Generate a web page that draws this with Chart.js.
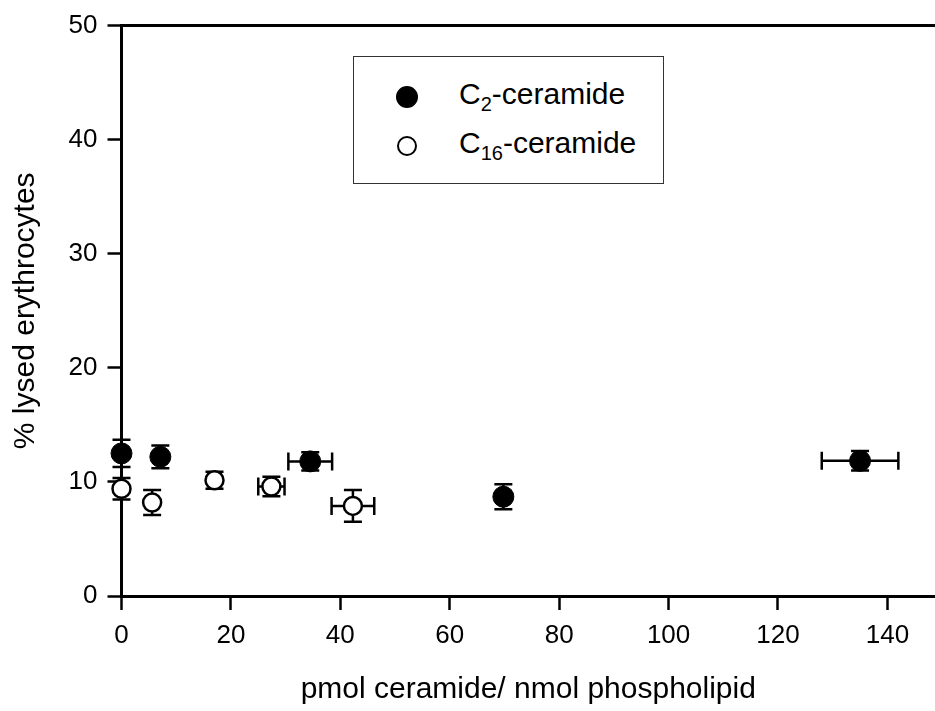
<!DOCTYPE html>
<html>
<head>
<meta charset="utf-8">
<script src="https://cdn.jsdelivr.net/npm/chart.js@4.4.0/dist/chart.umd.min.js"></script>
<style>
  body { margin: 0; background: #fff; }
  #wrap { position: relative; width: 935px; height: 711px; }
  #legend {
    position: absolute; left: 353px; top: 56px; width: 311px; height: 128px;
    border: 1.5px solid #333; box-sizing: border-box; background: #fff;
    font-family: "Liberation Sans", Arial, sans-serif; font-size: 30px; color: #000;
  }
  .dot { position: absolute; border-radius: 50%; box-sizing: border-box; border: 2.5px solid #000; }
  .lbl { position: absolute; left: 105px; height: 40px; line-height: 40px; white-space: nowrap; }
  .lbl sub { font-size: 20px; vertical-align: -7px; line-height: 0; }
</style>
</head>
<body>
<div id="wrap">
  <canvas id="chart" width="935" height="711"></canvas>
  <div id="legend">
    <div class="dot" style="left:42px; top:29px; width:22px; height:22px; background:#000;"></div>
    <div class="lbl" style="top:17px;">C<sub>2</sub>-ceramide</div>
    <div class="dot" style="left:43px; top:79px; width:20px; height:20px; background:#fff;"></div>
    <div class="lbl" style="top:66px;">C<sub>16</sub>-ceramide</div>
  </div>
</div>
<script>
// C2-ceramide
const c2X = [0, 7.1, 34.5, 69.8, 135.0];
const c2Y = [12.5, 12.2, 11.8, 8.7, 11.85];
const c2XErr = [0, 0, 4.0, 0, 7.0];
const c2YErr = [1.2, 1.0, 0.8, 1.1, 0.85];

// C16-ceramide
const c16X = [0, 5.6, 17.0, 27.4, 42.3];
const c16Y = [9.4, 8.2, 10.15, 9.6, 7.9];
const c16XErr = [0, 0, 0, 2.4, 3.9];
const c16YErr = [0.95, 1.1, 0.75, 0.85, 1.4];

const series = [
  { x: c2X, y: c2Y, xErr: c2XErr, yErr: c2YErr },
  { x: c16X, y: c16Y, xErr: c16XErr, yErr: c16YErr },
];

function toPoints(xs, ys) {
  return xs.map((x, i) => ({ x: x, y: ys[i] }));
}

// draw error bars under the markers
const errorBars = {
  id: "errorBars",
  beforeDatasetsDraw(chart) {
    const ctx = chart.ctx;
    const xs = chart.scales.x;
    const ys = chart.scales.y;
    const cap = 9;
    ctx.save();
    ctx.strokeStyle = "#000";
    ctx.lineWidth = 2.5;
    series.forEach((s) => {
      s.x.forEach((xv, i) => {
        const px = xs.getPixelForValue(xv);
        const py = ys.getPixelForValue(s.y[i]);
        ctx.beginPath();
        if (s.yErr[i]) {
          const top = ys.getPixelForValue(s.y[i] + s.yErr[i]);
          const bot = ys.getPixelForValue(s.y[i] - s.yErr[i]);
          ctx.moveTo(px, top); ctx.lineTo(px, bot);
          ctx.moveTo(px - cap, top); ctx.lineTo(px + cap, top);
          ctx.moveTo(px - cap, bot); ctx.lineTo(px + cap, bot);
        }
        if (s.xErr[i]) {
          const l = xs.getPixelForValue(xv - s.xErr[i]);
          const r = xs.getPixelForValue(xv + s.xErr[i]);
          ctx.moveTo(l, py); ctx.lineTo(r, py);
          ctx.moveTo(l, py - cap); ctx.lineTo(l, py + cap);
          ctx.moveTo(r, py - cap); ctx.lineTo(r, py + cap);
        }
        ctx.stroke();
      });
    });
    ctx.restore();
  },
};

const font = "'Liberation Sans', Arial, sans-serif";

new Chart(document.getElementById("chart"), {
  type: "scatter",
  data: {
    datasets: [
      {
        label: "C2-ceramide",
        data: toPoints(c2X, c2Y),
        pointRadius: 10.5,
        pointBackgroundColor: "#000",
        pointBorderColor: "#000",
        pointBorderWidth: 1,
        clip: false,
      },
      {
        label: "C16-ceramide",
        data: toPoints(c16X, c16Y),
        pointRadius: 9,
        pointBackgroundColor: "#fff",
        pointBorderColor: "#000",
        pointBorderWidth: 2.5,
        clip: false,
      },
    ],
  },
  options: {
    responsive: false,
    animation: false,
    // plot runs right up to the right edge like the original
    layout: { autoPadding: false, padding: { top: 17, right: 0, left: 0, bottom: 0 } },
    plugins: { legend: { display: false }, tooltip: { enabled: false } },
    scales: {
      x: {
        type: "linear",
        position: "bottom",
        min: 0,
        max: 148.7,
        afterFit: (scale) => { scale.height = 115; },
        ticks: { stepSize: 20, includeBounds: false, color: "#000", padding: 10, font: { family: font, size: 26 } },
        grid: { drawOnChartArea: false, tickLength: 14, tickWidth: 2.5, color: "#000" },
        border: { color: "#000", width: 3 },
        title: {
          display: true,
          text: "pmol ceramide/ nmol phospholipid",
          color: "#000",
          font: { family: font, size: 30 },
          padding: { top: 0, bottom: 3 },
        },
      },
      xTop: {
        type: "linear",
        position: "top",
        min: 0,
        max: 148.7,
        afterFit: (scale) => { scale.height = 0; },
        ticks: { display: false },
        grid: { display: false },
        border: { color: "#000", width: 3 },
      },
      y: {
        min: 0,
        max: 50,
        afterFit: (scale) => { scale.width = 121.5; },
        ticks: { stepSize: 10, color: "#000", padding: 10, font: { family: font, size: 26 } },
        grid: { drawOnChartArea: false, tickLength: 14, tickWidth: 2.5, color: "#000" },
        border: { color: "#000", width: 3 },
        title: {
          display: true,
          text: "% lysed erythrocytes",
          color: "#000",
          font: { family: font, size: 30 },
          padding: { top: 8, bottom: 0 },
        },
      },
    },
  },
  plugins: [errorBars],
});
</script>
</body>
</html>
